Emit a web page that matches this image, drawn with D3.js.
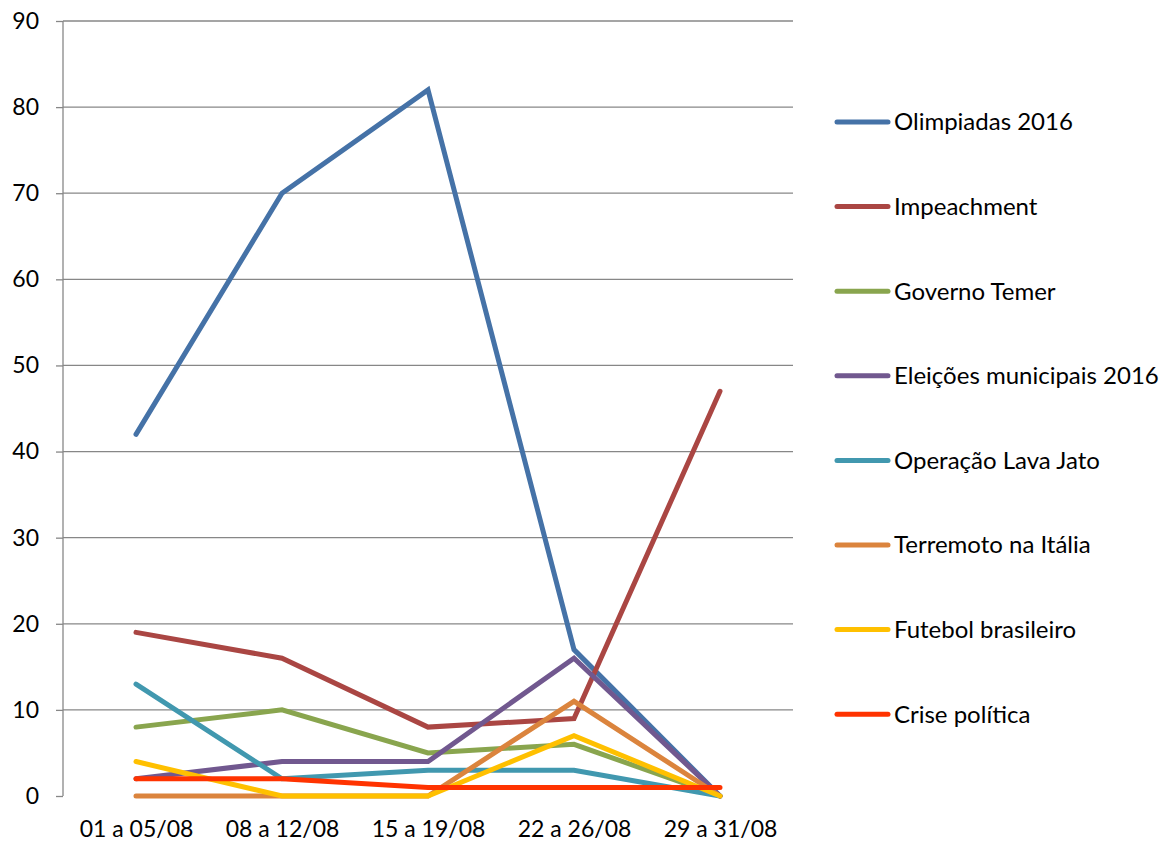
<!DOCTYPE html>
<html>
<head>
<meta charset="utf-8">
<script src="https://cdn.jsdelivr.net/npm/d3@7"></script>
<style>
  body { margin: 0; background: #fff; }
  text { font-family: Lato, "Open Sans", sans-serif; fill: #000; }
</style>
</head>
<body>
<div id="chart"></div>
<script>
// categories and series
var weeks = ["01 a 05/08", "08 a 12/08", "15 a 19/08", "22 a 26/08", "29 a 31/08"];
var seriesNames = ["Olimpiadas 2016", "Impeachment", "Governo Temer", "Eleições municipais 2016",
  "Operação Lava Jato", "Terremoto na Itália", "Futebol brasileiro", "Crise política"];
var olimpiadas = [42, 70, 82, 17, 0];
var impeachment = [19, 16, 8, 9, 47];
var governoTemer = [8, 10, 5, 6, 0];
var eleicoes = [2, 4, 4, 16, 0];
var lavaJato = [13, 2, 3, 3, 0];
var terremoto = [0, 0, 0, 11, 0];
var futebol = [4, 0, 0, 7, 0];
var crise = [2, 2, 1, 1, 1];
var yTicks = [0, 10, 20, 30, 40, 50, 60, 70, 80, 90];
var colors = ["#4572A7", "#AA4643", "#89A54E", "#71588F", "#4198AF", "#DB843D", "#FFC000", "#FF3300"];

var allValues = [olimpiadas, impeachment, governoTemer, eleicoes, lavaJato, terremoto, futebol, crise];

var width = 1171, height = 843;
var svg = d3.select("#chart").append("svg")
  .attr("width", width)
  .attr("height", height);

var x = d3.scalePoint().domain(weeks).range([63, 793]).padding(0.5);
var y = d3.scaleLinear().domain([0, 90]).range([796, 21]);

// gridlines
svg.append("g").selectAll("line")
  .data(yTicks.filter(function(d) { return d > 0; }))
  .enter().append("line")
  .attr("x1", 63).attr("x2", 793)
  .attr("y1", function(d) { return y(d); })
  .attr("y2", function(d) { return y(d); })
  .style("stroke", "#878787")
  .style("stroke-width", 1.3);

// y axis
var yAxis = svg.append("g")
  .attr("transform", "translate(63,0)")
  .call(d3.axisLeft(y).tickValues(yTicks).tickSize(7).tickPadding(17));
yAxis.select(".domain").remove();
yAxis.append("line")
  .attr("x1", 0).attr("x2", 0)
  .attr("y1", y(90)).attr("y2", y(0))
  .style("stroke", "#878787").style("stroke-width", 1.3);
yAxis.selectAll(".tick line").style("stroke", "#878787").style("stroke-width", 1.3);
yAxis.selectAll(".tick text")
  .style("font-size", "23px")
  .style("font-family", "Lato, sans-serif")
  .attr("fill", "#000");

// x labels
var xAxis = svg.append("g")
  .attr("transform", "translate(0,796)")
  .call(d3.axisBottom(x).tickSize(0).tickPadding(25));
xAxis.select(".domain").remove();
xAxis.selectAll(".tick text")
  .style("font-size", "23px")
  .style("font-family", "Lato, sans-serif")
  .attr("fill", "#000");

// lines
var line = d3.line()
  .x(function(d, i) { return x(weeks[i]); })
  .y(function(d) { return y(d); });

svg.append("g").selectAll("path")
  .data(allValues)
  .enter().append("path")
  .attr("d", line)
  .style("fill", "none")
  .style("stroke", function(d, i) { return colors[i]; })
  .style("stroke-width", 5)
  .style("stroke-linecap", "round")
  .style("stroke-linejoin", "miter");

// legend
var legend = svg.append("g").selectAll("g")
  .data(seriesNames)
  .enter().append("g")
  .attr("transform", function(d, i) { return "translate(0," + (122 + i * 84.6) + ")"; });

legend.append("line")
  .attr("x1", 837).attr("x2", 888)
  .attr("y1", 0).attr("y2", 0)
  .style("stroke", function(d, i) { return colors[i]; })
  .style("stroke-width", 5)
  .style("stroke-linecap", "round");

legend.append("text")
  .attr("x", 894)
  .attr("y", 0)
  .attr("dy", "0.35em")
  .style("font-size", "24px")
  .text(function(d) { return d; });
</script>
</body>
</html>
